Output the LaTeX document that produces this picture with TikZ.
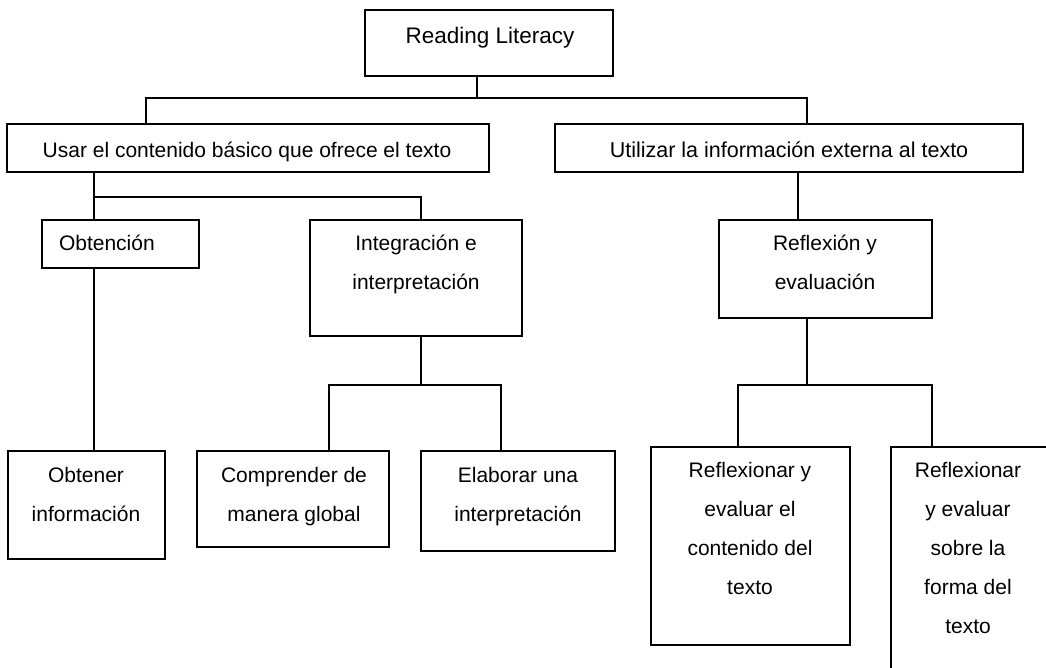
\documentclass[tikz,border=0pt]{standalone}
\usepackage{fontspec}
\setmainfont{Liberation Sans}
\begin{document}
\begin{tikzpicture}[x=1pt,y=-1pt,
  box/.style={draw, line width=1.3pt, inner sep=0pt, outer sep=0pt, anchor=north west},
  lbl/.style={inner sep=0pt, outer sep=0pt, align=center, anchor=north, font=\fontsize{21}{39}\selectfont},
  conn/.style={line width=1.3pt}]
\useasboundingbox (0,0) rectangle (1046,668);
\clip (0,0) rectangle (1046,668);
\fill[white] (0,0) rectangle (1046,668);
% boxes
\node[box, minimum width=248pt, minimum height=66pt] (rl) at (365,10) {};
\node[box, minimum width=482pt, minimum height=48pt] (usar) at (7,124) {};
\node[box, minimum width=468pt, minimum height=48pt] (util) at (555,124) {};
\node[box, minimum width=157pt, minimum height=48pt] (obt) at (42,220) {};
\node[box, minimum width=212pt, minimum height=116pt] (integ) at (310,220) {};
\node[box, minimum width=213pt, minimum height=98pt] (refl) at (719,220) {};
\node[box, minimum width=157pt, minimum height=108pt] (obtener) at (8,451) {};
\node[box, minimum width=192pt, minimum height=96pt] (comp) at (197,451) {};
\node[box, minimum width=194pt, minimum height=100pt] (elab) at (421,451) {};
\node[box, minimum width=199pt, minimum height=198pt] (cont) at (651,447) {};
\node[box, minimum width=169pt, minimum height=253pt] (forma) at (891,447) {};
% labels
\node[lbl, font=\fontsize{22.5}{39}\selectfont] (trl) at (490,27) {Reading Literacy};
\node[lbl] (tusar) at (247,142) {Usar el contenido básico que ofrece el texto};
\node[lbl, font=\fontsize{21.5}{39}\selectfont] (tutil) at (789,142) {Utilizar la información externa al texto};
\node[lbl, anchor=north west] (tobt) at (59,235) {Obtención};
\node[lbl] (tinteg) at (416,235) {Integración e\\interpretación};
\node[lbl] (trefl) at (825,235) {Reflexión y\\evaluación};
\node[lbl] (tobtener) at (86,467) {Obtener\\información};
\node[lbl] (tcomp) at (294,467) {Comprender de\\manera global};
\node[lbl] (telab) at (518,467) {Elaborar una\\interpretación};
\node[lbl] (tcont) at (750,462) {Reflexionar y\\evaluar el\\contenido del\\texto};
\node[lbl] (tforma) at (968,462) {Reflexionar\\y evaluar\\sobre la\\forma del\\texto};
% connectors
\coordinate (j1) at (477,98);
\draw[conn] ([xshift=-12pt]rl.south) -- (j1);
\draw[conn] ([xshift=-102pt]usar.north) |- (j1) -| ([xshift=18pt]util.north);
\coordinate (j2) at (94,197);
\draw[conn] ([xshift=-154pt]usar.south) -- ([xshift=-26.5pt]obt.north);
\draw[conn] (j2) -| ([xshift=5pt]integ.north);
\draw[conn] ([xshift=-26.5pt]obt.south) -- ([xshift=7.5pt]obtener.north);
\coordinate (j3) at (421,385);
\draw[conn] ([xshift=5pt]integ.south) -- (j3);
\draw[conn] ([xshift=36pt]comp.north) |- (j3) -| ([xshift=-17pt]elab.north);
\draw[conn] ([xshift=9pt]util.south) -- ([xshift=-27.5pt]refl.north);
\coordinate (j4) at (807,385);
\draw[conn] ([xshift=-18.5pt]refl.south) -- (j4);
\draw[conn] ([xshift=-12.5pt]cont.north) |- (j4) -| ([xshift=-43.5pt]forma.north);
\end{tikzpicture}
\end{document}
